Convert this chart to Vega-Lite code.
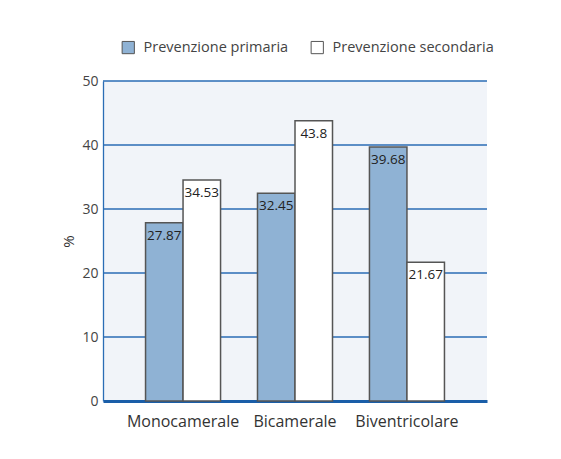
{
  "$schema": "https://vega.github.io/schema/vega-lite/v6.json",
  "width": 384,
  "height": 320,
  "autosize": "none",
  "padding": {"left": 103, "top": 81, "right": 74, "bottom": 58},
  "background": "#ffffff",
  "config": {
    "font": "Open Sans",
    "view": {"fill": "#f1f4f9", "stroke": null}
  },
  "datasets": {
    "bars": [
      {"cat": "Monocamerale", "serie": "Prevenzione primaria", "v": 27.87},
      {"cat": "Monocamerale", "serie": "Prevenzione secondaria", "v": 34.53},
      {"cat": "Bicamerale", "serie": "Prevenzione primaria", "v": 32.45},
      {"cat": "Bicamerale", "serie": "Prevenzione secondaria", "v": 43.8},
      {"cat": "Biventricolare", "serie": "Prevenzione primaria", "v": 39.68},
      {"cat": "Biventricolare", "serie": "Prevenzione secondaria", "v": 21.67}
    ],
    "grid": [{"v": 10}, {"v": 20}, {"v": 30}, {"v": 40}, {"v": 50}]
  },
  "resolve": {"scale": {"y": "shared"}},
  "layer": [
    {
      "data": {"name": "grid"},
      "mark": {"type": "rule", "color": "#2a6db5", "strokeWidth": 1.3},
      "encoding": {
        "y": {
          "field": "v", "type": "quantitative",
          "scale": {"domain": [0, 50]},
          "axis": {
            "title": "%", "titleFontSize": 15, "titleFontWeight": "normal", "titleColor": "#333333", "titlePadding": 5,
            "values": [0, 10, 20, 30, 40, 50],
            "ticks": false, "domainColor": "#2a6db5", "domainWidth": 1.3, "grid": false,
            "labelFontSize": 14, "labelColor": "#444444", "labelPadding": 5
          }
        }
      }
    },
    {
      "data": {"name": "bars"},
      "encoding": {
        "x": {
          "field": "cat", "type": "nominal",
          "sort": ["Monocamerale", "Bicamerale", "Biventricolare"],
          "scale": {"paddingInner": 0.33, "paddingOuter": 0.38},
          "axis": {
            "title": null, "labelAngle": 0, "ticks": false,
            "domainColor": "#1a5ea8", "domainWidth": 3,
            "labelFontSize": 16, "labelColor": "#333333", "labelPadding": 12
          }
        },
        "xOffset": {"field": "serie", "type": "nominal", "scale": {"paddingInner": 0, "paddingOuter": 0}},
        "y": {"field": "v", "type": "quantitative"}
      },
      "layer": [
        {
          "mark": {"type": "bar", "stroke": "#555555", "strokeWidth": 1.5},
          "encoding": {
            "fill": {
              "field": "serie", "type": "nominal",
              "scale": {"domain": ["Prevenzione primaria", "Prevenzione secondaria"], "range": ["#8fb2d4", "#ffffff"]},
              "legend": {
                "title": null, "orient": "none", "direction": "horizontal",
                "legendX": 18, "legendY": -41,
                "symbolType": "square", "symbolSize": 150,
                "symbolStrokeColor": "#555555", "symbolStrokeWidth": 1,
                "labelFontSize": 14.5, "labelColor": "#444444", "labelLimit": 300,
                "columnPadding": 20, "labelOffset": 8
              }
            }
          }
        },
        {
          "mark": {"type": "text", "baseline": "top", "dy": 6, "fontSize": 13.5, "color": "#222222"},
          "encoding": {
            "text": {"field": "v", "type": "quantitative"}
          }
        }
      ]
    }
  ]
}
